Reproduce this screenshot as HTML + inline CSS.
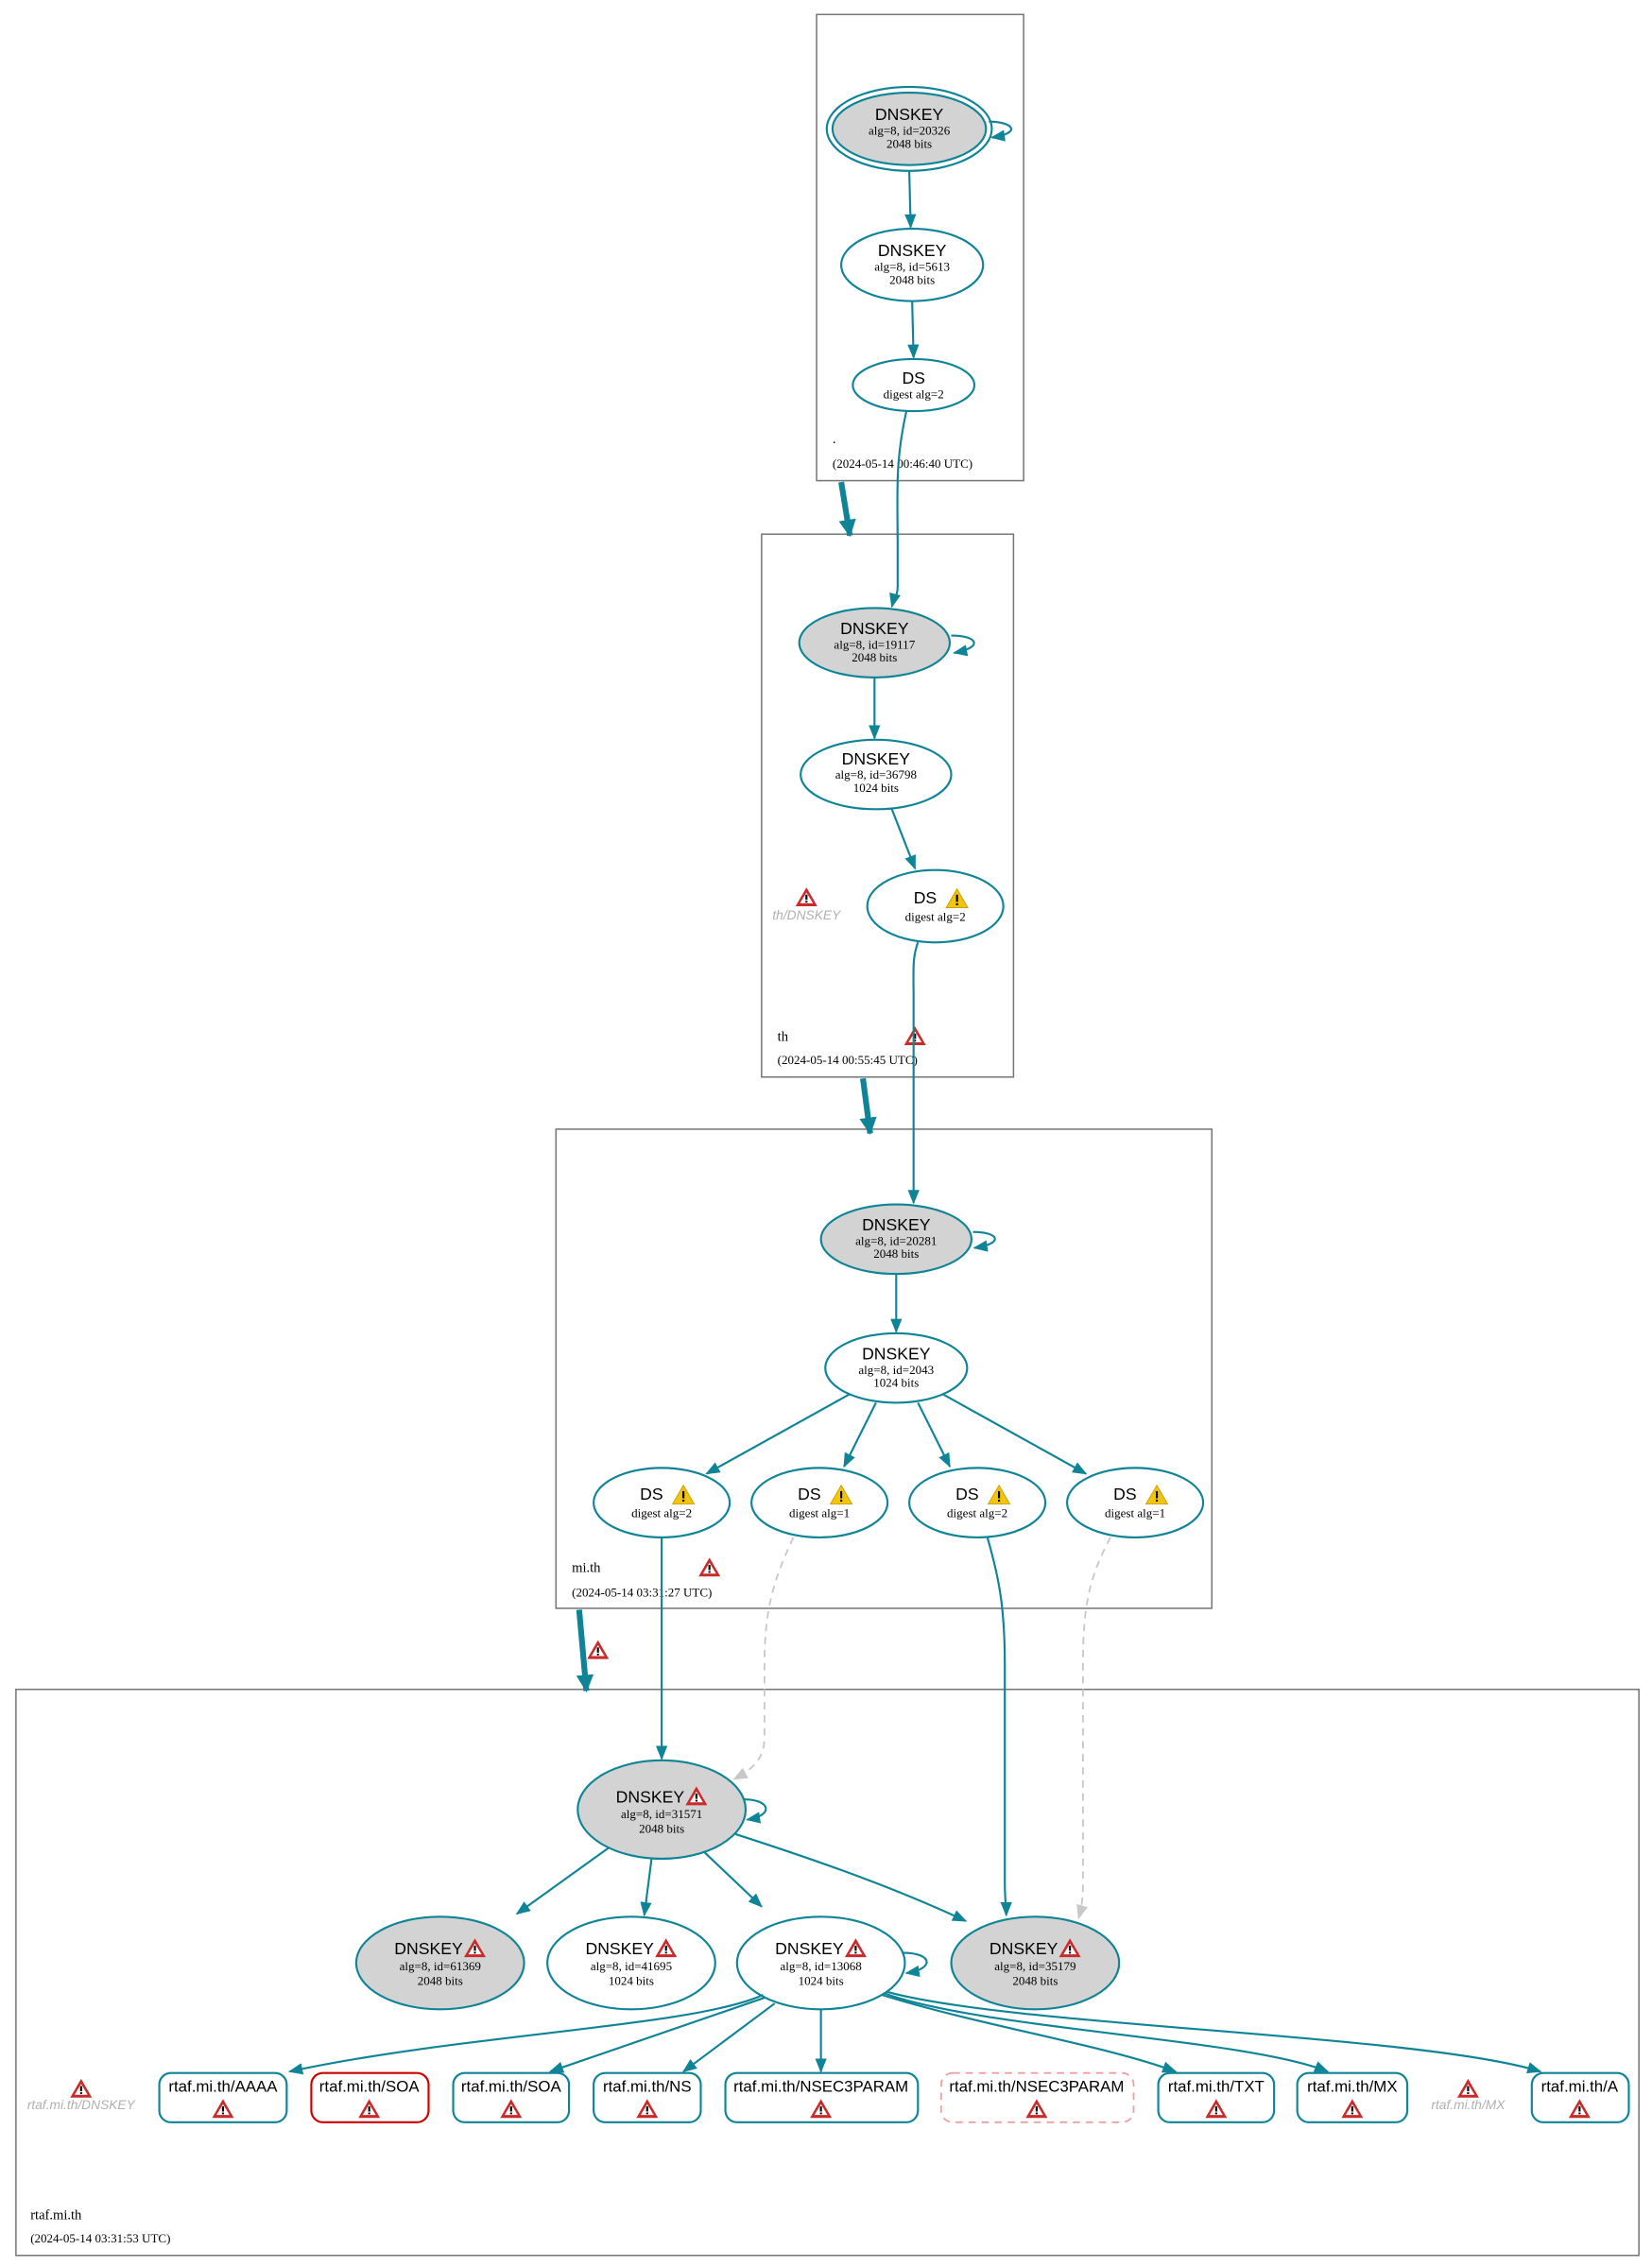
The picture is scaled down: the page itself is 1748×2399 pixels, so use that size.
<!DOCTYPE html>
<html><head><meta charset="utf-8"><style>
html,body{margin:0;padding:0;background:#fff;}
svg{display:block;}
.t{font-family:"Liberation Sans",sans-serif;font-size:11.5px;fill:#000;text-anchor:middle;}
.r{font-family:"Liberation Sans",sans-serif;font-size:11px;fill:#000;text-anchor:middle;}
.s{font-family:"Liberation Serif",serif;font-size:8.5px;fill:#000;text-anchor:middle;}
.z{font-family:"Liberation Serif",serif;font-size:9.5px;fill:#000;}
.zl{font-family:"Liberation Serif",serif;font-size:8.5px;fill:#000;}
.g{font-family:"Liberation Sans",sans-serif;font-size:9px;fill:#b0b0b0;font-style:italic;text-anchor:middle;}
.e{stroke:#0e8496;stroke-width:1.4;fill:none;}
.n{stroke:#0e8496;stroke-width:1.4;}
.d{stroke:#c8c8c8;stroke-width:1.2;fill:none;stroke-dasharray:5,4;}
.box{fill:none;stroke:#777;stroke-width:1;}
</style></head><body>
<svg width="1748" height="2399" viewBox="0 0 1141 1566" xmlns="http://www.w3.org/2000/svg">
<defs>
<marker id="a" markerWidth="10" markerHeight="8" refX="9" refY="4" orient="auto" markerUnits="userSpaceOnUse"><path d="M0,0 L10,4 L0,8z" fill="#0e8496"/></marker>
<marker id="ag" markerWidth="10" markerHeight="8" refX="9" refY="4" orient="auto" markerUnits="userSpaceOnUse"><path d="M0,0 L10,4 L0,8z" fill="#c8c8c8"/></marker>
<marker id="ab" markerWidth="12" markerHeight="12" refX="11" refY="6" orient="auto" markerUnits="userSpaceOnUse"><path d="M0,0 L12,6 L0,12z" fill="#0e8496"/></marker>
<g id="err"><path d="M0,-7 L7.5,6 L-7.5,6z" fill="#c92a2a"/><path d="M0,-3.5 L4.5,4 L-4.5,4z" fill="#fff"/><rect x="-0.7" y="-2" width="1.4" height="3.6" fill="#000"/><rect x="-0.7" y="2.3" width="1.4" height="1.2" fill="#000"/></g>
<g id="warn"><path d="M0,-7 L7.5,6 L-7.5,6z" fill="#f1c40f" stroke="#c9a000" stroke-width="0.6"/><rect x="-0.7" y="-3" width="1.4" height="5" fill="#000"/><rect x="-0.7" y="3" width="1.4" height="1.3" fill="#000"/></g>
</defs>

<rect class="box" x="564" y="10" width="143" height="322"/>
<rect class="box" x="526" y="369" width="174" height="375"/>
<rect class="box" x="384" y="780" width="453" height="331"/>
<rect class="box" x="11" y="1167" width="1121" height="391"/>

<path d="M581,333 L587,370" stroke="#0e8496" stroke-width="4" marker-end="url(#ab)" fill="none"/>
<path d="M596,745 L601,783" stroke="#0e8496" stroke-width="4" marker-end="url(#ab)" fill="none"/>
<path d="M400,1112 L405,1168" stroke="#0e8496" stroke-width="4" marker-end="url(#ab)" fill="none"/>
<use href="#err" x="413" y="1140"/>

<ellipse cx="628" cy="89" rx="57" ry="29" fill="none" class="n"/>
<ellipse cx="628" cy="89" rx="53" ry="25" fill="#d3d3d3" class="n"/>
<text class="t" x="628" y="83">DNSKEY</text><text class="s" x="628" y="93">alg=8, id=20326</text><text class="s" x="628" y="102">2048 bits</text>
<path class="e" d="M683,84 C700,84 706,92 685,95" marker-end="url(#a)"/>
<path class="e" d="M628,118 L629,157" marker-end="url(#a)"/>
<ellipse cx="630" cy="183" rx="49" ry="25" fill="#fff" class="n"/>
<text class="t" x="630" y="177">DNSKEY</text><text class="s" x="630" y="187">alg=8, id=5613</text><text class="s" x="630" y="196">2048 bits</text>
<path class="e" d="M630,208 L631,247" marker-end="url(#a)"/>
<ellipse cx="631" cy="266" rx="42" ry="18" fill="#fff" class="n"/>
<text class="t" x="631" y="265">DS</text><text class="s" x="631" y="275">digest alg=2</text>
<text class="z" x="575" y="306">.</text>
<text class="zl" x="575" y="323">(2024-05-14 00:46:40 UTC)</text>
<path class="e" d="M626,284 C618,320 620,340 620,380 L620,405 C620,412 617,415 616,419" marker-end="url(#a)"/>

<ellipse cx="604" cy="444" rx="52" ry="24" fill="#d3d3d3" class="n"/>
<text class="t" x="604" y="438">DNSKEY</text><text class="s" x="604" y="448">alg=8, id=19117</text><text class="s" x="604" y="457">2048 bits</text>
<path class="e" d="M657,439 C675,439 680,447 659,451" marker-end="url(#a)"/>
<path class="e" d="M604,468 L604,510" marker-end="url(#a)"/>
<ellipse cx="605" cy="535" rx="52" ry="24" fill="#fff" class="n"/>
<text class="t" x="605" y="528">DNSKEY</text><text class="s" x="605" y="538">alg=8, id=36798</text><text class="s" x="605" y="547">1024 bits</text>
<path class="e" d="M616,559 L632,600" marker-end="url(#a)"/>
<ellipse cx="646" cy="626" rx="47" ry="25" fill="#fff" class="n"/>
<text class="t" x="639" y="624">DS</text><use href="#warn" x="661" y="621"/><text class="s" x="646" y="636">digest alg=2</text>
<use href="#err" x="557" y="620"/><text class="g" x="557" y="635">th/DNSKEY</text>
<text class="z" x="537" y="719">th</text><use href="#err" x="632" y="716"/>
<text class="zl" x="537" y="735">(2024-05-14 00:55:45 UTC)</text>
<path class="e" d="M634,651 C630,662 631,670 631,690 L631,831" marker-end="url(#a)"/>

<ellipse cx="619" cy="856" rx="52" ry="24" fill="#d3d3d3" class="n"/>
<text class="t" x="619" y="850">DNSKEY</text><text class="s" x="619" y="860">alg=8, id=20281</text><text class="s" x="619" y="869">2048 bits</text>
<path class="e" d="M672,851 C690,851 694,859 673,862" marker-end="url(#a)"/>
<path class="e" d="M619,880 L619,920" marker-end="url(#a)"/>
<ellipse cx="619" cy="945" rx="49" ry="24" fill="#fff" class="n"/>
<text class="t" x="619" y="939">DNSKEY</text><text class="s" x="619" y="949">alg=8, id=2043</text><text class="s" x="619" y="958">1024 bits</text>
<path class="e" d="M587,963 L488,1018" marker-end="url(#a)"/>
<path class="e" d="M605,969 L583,1013" marker-end="url(#a)"/>
<path class="e" d="M634,969 L656,1013" marker-end="url(#a)"/>
<path class="e" d="M651,963 L750,1018" marker-end="url(#a)"/>
<ellipse cx="457" cy="1038" rx="47" ry="24" fill="#fff" class="n"/><text class="t" x="450" y="1036">DS</text><use href="#warn" x="472" y="1033"/><text class="s" x="457" y="1048">digest alg=2</text>
<ellipse cx="566" cy="1038" rx="47" ry="24" fill="#fff" class="n"/><text class="t" x="559" y="1036">DS</text><use href="#warn" x="581" y="1033"/><text class="s" x="566" y="1048">digest alg=1</text>
<ellipse cx="675" cy="1038" rx="47" ry="24" fill="#fff" class="n"/><text class="t" x="668" y="1036">DS</text><use href="#warn" x="690" y="1033"/><text class="s" x="675" y="1048">digest alg=2</text>
<ellipse cx="784" cy="1038" rx="47" ry="24" fill="#fff" class="n"/><text class="t" x="777" y="1036">DS</text><use href="#warn" x="799" y="1033"/><text class="s" x="784" y="1048">digest alg=1</text>
<text class="z" x="395" y="1086">mi.th</text><use href="#err" x="490" y="1083"/>
<text class="zl" x="395" y="1103">(2024-05-14 03:31:27 UTC)</text>

<path class="e" d="M457,1062 L457,1215" marker-end="url(#a)"/>
<path class="d" d="M548,1062 C535,1090 528,1110 528,1150 L528,1200 C528,1215 520,1222 507,1229" marker-end="url(#ag)"/>
<path class="e" d="M682,1062 C690,1090 694,1110 694,1150 L694,1300 C694,1312 695,1318 695,1323" marker-end="url(#a)"/>
<path class="d" d="M767,1062 C752,1090 748,1110 748,1150 L748,1300 C748,1312 747,1318 745,1325" marker-end="url(#ag)"/>

<ellipse cx="457" cy="1250" rx="58" ry="34" fill="#d3d3d3" class="n"/>
<text class="t" x="449" y="1245">DNSKEY</text><use href="#err" x="481" y="1241"/><text class="s" x="457" y="1256">alg=8, id=31571</text><text class="s" x="457" y="1266">2048 bits</text>
<path class="e" d="M514,1243 C532,1243 535,1254 516,1257" marker-end="url(#a)"/>
<path class="e" d="M421,1276 L357,1322" marker-end="url(#a)"/>
<path class="e" d="M450,1284 L445,1323" marker-end="url(#a)"/>
<path class="e" d="M486,1279 L526,1317" marker-end="url(#a)"/>
<path class="e" d="M508,1267 C570,1287 620,1305 667,1327" marker-end="url(#a)"/>

<ellipse cx="304" cy="1356" rx="58" ry="32" fill="#d3d3d3" class="n"/>
<text class="t" x="296" y="1350">DNSKEY</text><use href="#err" x="328" y="1346"/><text class="s" x="304" y="1361">alg=8, id=61369</text><text class="s" x="304" y="1371">2048 bits</text>
<ellipse cx="436" cy="1356" rx="58" ry="32" fill="#fff" class="n"/>
<text class="t" x="428" y="1350">DNSKEY</text><use href="#err" x="460" y="1346"/><text class="s" x="436" y="1361">alg=8, id=41695</text><text class="s" x="436" y="1371">1024 bits</text>
<ellipse cx="567" cy="1356" rx="58" ry="32" fill="#fff" class="n"/>
<text class="t" x="559" y="1350">DNSKEY</text><use href="#err" x="591" y="1346"/><text class="s" x="567" y="1361">alg=8, id=13068</text><text class="s" x="567" y="1371">1024 bits</text>
<path class="e" d="M624,1349 C644,1349 646,1360 626,1363" marker-end="url(#a)"/>
<ellipse cx="715" cy="1356" rx="58" ry="32" fill="#d3d3d3" class="n"/>
<text class="t" x="707" y="1350">DNSKEY</text><use href="#err" x="739" y="1346"/><text class="s" x="715" y="1361">alg=8, id=35179</text><text class="s" x="715" y="1371">2048 bits</text>

<path class="e" d="M527,1378 C480,1400 320,1405 200,1431" marker-end="url(#a)"/>
<path class="e" d="M528,1380 L380,1431" marker-end="url(#a)"/>
<path class="e" d="M535,1384 L472,1431" marker-end="url(#a)"/>
<path class="e" d="M567,1388 L567,1431" marker-end="url(#a)"/>
<path class="e" d="M609,1378 C680,1400 760,1412 812,1431" marker-end="url(#a)"/>
<path class="e" d="M611,1377 C680,1402 860,1408 917,1431" marker-end="url(#a)"/>
<path class="e" d="M613,1376 C700,1400 980,1405 1064,1431" marker-end="url(#a)"/>

<rect x="110" y="1432" width="88" height="34" rx="8" fill="#fff" class="n"/><text class="r" x="154" y="1445">rtaf.mi.th/AAAA</text><use href="#err" x="154" y="1457"/>
<rect x="215" y="1432" width="81" height="34" rx="8" fill="#fff" stroke="#cc0000" stroke-width="1.4"/><text class="r" x="255" y="1445">rtaf.mi.th/SOA</text><use href="#err" x="255" y="1457"/>
<rect x="313" y="1432" width="80" height="34" rx="8" fill="#fff" class="n"/><text class="r" x="353" y="1445">rtaf.mi.th/SOA</text><use href="#err" x="353" y="1457"/>
<rect x="410" y="1432" width="74" height="34" rx="8" fill="#fff" class="n"/><text class="r" x="447" y="1445">rtaf.mi.th/NS</text><use href="#err" x="447" y="1457"/>
<rect x="501" y="1432" width="133" height="34" rx="8" fill="#fff" class="n"/><text class="r" x="567" y="1445">rtaf.mi.th/NSEC3PARAM</text><use href="#err" x="567" y="1457"/>
<rect x="650" y="1432" width="133" height="34" rx="8" fill="#fff" stroke="#eea0a0" stroke-width="1.2" stroke-dasharray="5,4"/><text class="r" x="716" y="1445">rtaf.mi.th/NSEC3PARAM</text><use href="#err" x="716" y="1457"/>
<rect x="800" y="1432" width="80" height="34" rx="8" fill="#fff" class="n"/><text class="r" x="840" y="1445">rtaf.mi.th/TXT</text><use href="#err" x="840" y="1457"/>
<rect x="896" y="1432" width="76" height="34" rx="8" fill="#fff" class="n"/><text class="r" x="934" y="1445">rtaf.mi.th/MX</text><use href="#err" x="934" y="1457"/>
<rect x="1058" y="1432" width="67" height="34" rx="8" fill="#fff" class="n"/><text class="r" x="1091" y="1445">rtaf.mi.th/A</text><use href="#err" x="1091" y="1457"/>
<use href="#err" x="1014" y="1443"/><text class="g" x="1014" y="1457">rtaf.mi.th/MX</text>
<use href="#err" x="56" y="1443"/><text class="g" x="56" y="1457">rtaf.mi.th/DNSKEY</text>
<text class="z" x="21" y="1533">rtaf.mi.th</text>
<text class="zl" x="21" y="1549">(2024-05-14 03:31:53 UTC)</text>
</svg>
</body></html>
